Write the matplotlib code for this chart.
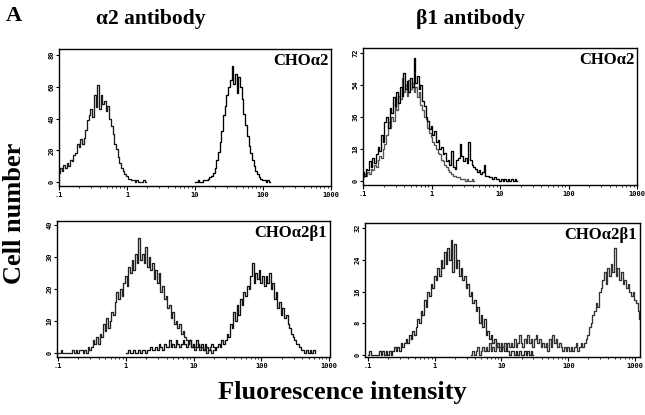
import matplotlib
matplotlib.use("Agg")
import matplotlib.pyplot as plt
import numpy as np
from matplotlib.ticker import FixedLocator, LogLocator, NullFormatter

# ---------------- data (histogram counts on a log10 channel grid) ----------------
LOG_STEP = 0.025  # log10 width of one channel

x_ticks = [0.1, 1, 10, 100, 1000]
x_tick_labels = [".1", "1", "10", "100", "1000"]

column_titles = ["\u03b12 antibody", "\u03b21 antibody"]
row_labels = ["CHO\u03b12", "CHO\u03b12\u03b21"]

# top-left: alpha2 antibody on CHOa2
tl_neg_start = -1.0
tl_neg = [6, 9, 7, 11, 9, 12, 10, 14, 13, 17, 18, 24, 22, 27, 24, 28, 33, 39, 42, 46,
          41, 55, 47, 61, 46, 55, 49, 51, 45, 48, 40, 35, 30, 24, 21, 16, 12, 9, 7, 5,
          4, 2, 2, 1, 1, 0, 1, 0, 0, 0, 1, 0]
tl_pos_start = 1.0
tl_pos = [0, 0, 1, 0, 0, 1, 1, 1, 2, 3, 4, 6, 9, 14, 19, 25, 32, 42, 48, 55,
          60, 64, 73, 62, 68, 56, 66, 60, 52, 43, 36, 29, 23, 18, 14, 10, 7, 5, 3, 2,
          1, 1, 0, 1, 0]
tl_yticks = [0, 20, 40, 60, 80]

# top-right: beta1 antibody on CHOa2
tr_a_start = -1.0
tr_a = [5, 3, 7, 6, 11, 8, 13, 10, 15, 19, 17, 26, 22, 33, 36, 30, 41, 38, 47, 42,
        50, 44, 53, 48, 61, 52, 56, 50, 58, 53, 69, 55, 59, 52, 54, 45, 42, 36, 34, 29,
        31, 26, 28, 22, 23, 18, 19, 15, 16, 11, 12, 9, 17, 8, 7, 12, 13, 21, 14, 11,
        13, 10, 22, 12, 9, 8, 7, 5, 6, 4, 5, 9, 3, 3, 2, 2, 1, 2, 1, 1,
        0, 1, 0, 1, 0, 1, 0, 1, 0, 1, 0]
tr_b_start = -1.0
tr_b = [2, 4, 3, 5, 4, 7, 6, 9, 8, 12, 14, 13, 18, 21, 26, 33, 30, 36, 34, 44,
        40, 48, 46, 58, 50, 54, 48, 57, 52, 55, 50, 53, 47, 50, 43, 40, 36, 35, 30, 27,
        25, 22, 20, 18, 16, 15, 12, 11, 9, 8, 6, 5, 4, 3, 3, 2, 2, 1, 1, 1,
        0, 1, 0, 0, 1, 0]
tr_yticks = [0, 18, 36, 54, 72]

# bottom-left: alpha2 antibody on CHOa2b1
bl_neg_start = -1.0
bl_neg = [0, 0, 1, 0, 0, 0, 0, 0, 0, 1, 0, 1, 0, 1, 1, 0, 1, 0, 2, 1,
          2, 4, 3, 5, 3, 6, 5, 9, 7, 11, 8, 10, 13, 12, 16, 19, 17, 20, 18, 22,
          24, 21, 27, 25, 29, 26, 31, 28, 36, 29, 31, 28, 33, 27, 30, 26, 28, 23, 26, 22,
          25, 19, 21, 17, 18, 14, 15, 11, 13, 9, 10, 8, 9, 6, 7, 5, 4, 3, 4, 2,
          3, 1, 2, 3, 1, 2, 1, 2, 0, 1, 1, 0, 1]
bl_pos_start = 0.0
bl_pos = [0, 0, 1, 0, 0, 1, 0, 0, 1, 0, 1, 1, 0, 1, 1, 2, 1, 1, 2, 1,
          3, 2, 1, 3, 2, 2, 4, 2, 3, 2, 4, 3, 2, 3, 4, 3, 2, 3, 4, 2,
          3, 2, 4, 3, 2, 3, 1, 3, 2, 1, 2, 3, 2, 1, 2, 3, 2, 4, 3, 4,
          6, 5, 9, 8, 13, 10, 15, 12, 17, 15, 19, 18, 21, 20, 24, 28, 22, 25, 23, 26,
          22, 24, 21, 24, 22, 25, 20, 22, 17, 19, 14, 16, 12, 14, 11, 12, 9, 8, 6, 5,
          4, 3, 3, 2, 1, 1, 0, 1, 0, 1, 0, 1, 0]
bl_yticks = [0, 10, 20, 30, 40]

# bottom-right: beta1 antibody on CHOa2b1
br_neg_start = -1.0
br_neg = [0, 1, 0, 0, 0, 0, 0, 1, 0, 1, 0, 1, 0, 1, 0, 1, 2, 1, 2, 1,
          3, 2, 3, 4, 3, 5, 4, 6, 5, 7, 9, 8, 11, 10, 14, 12, 16, 15, 18, 17,
          20, 19, 22, 20, 24, 22, 26, 23, 27, 24, 29, 21, 28, 22, 24, 20, 22, 19, 20, 17,
          18, 15, 16, 13, 14, 11, 12, 8, 10, 7, 9, 5, 6, 4, 5, 3, 4, 2, 3, 2,
          1, 2, 1, 2, 1, 0, 1, 1, 0, 1, 0, 1, 0, 0, 1, 0, 1, 0, 1, 0]
br_pos_start = 0.55
br_pos = [0, 1, 0, 1, 2, 0, 1, 2, 1, 2, 1, 3, 1, 2, 1, 3, 2, 1, 3, 2,
          3, 2, 3, 2, 3, 2, 4, 2, 3, 5, 3, 2, 4, 3, 5, 3, 4, 2, 4, 5,
          3, 4, 2, 3, 2, 3, 1, 4, 2, 5, 3, 4, 2, 3, 2, 1, 2, 1, 2, 1,
          2, 1, 2, 3, 1, 2, 3, 2, 3, 4, 5, 7, 8, 10, 11, 13, 12, 16, 17, 19,
          21, 18, 22, 20, 23, 21, 27, 20, 22, 19, 21, 18, 19, 17, 18, 16, 15, 16, 14, 13,
          11, 9]
br_yticks = [0, 8, 16, 24, 32]

# ---------------- figure ----------------
W, H = 645, 415
fig = plt.figure(figsize=(W / 100, H / 100), dpi=100)
fig.patch.set_facecolor("white")

SERIF = ["Liberation Serif", "DejaVu Serif"]
TICKFONT = dict(family="DejaVu Sans Mono", weight="bold", size=5)


def px_axes(left, right, top, bottom):
    return fig.add_axes([left / W, 1 - bottom / H, (right - left) / W, (bottom - top) / H])


def centers(start, counts):
    return 10 ** (start + LOG_STEP * np.arange(len(counts)))


panels = [
    dict(box=(59, 331, 49, 186), xlim=(0.1, 1000), ylim=(-2.5, 83.8), yticks=tl_yticks,
         series=[(tl_neg_start, tl_neg, "#1a1a1a"), (tl_pos_start, tl_pos, "#000000")],
         label=row_labels[0]),
    dict(box=(363, 637, 48, 185), xlim=(0.1, 1000), ylim=(-2.25, 74.8), yticks=tr_yticks,
         series=[(tr_b_start, tr_b, "#555555"), (tr_a_start, tr_a, "#000000")],
         label=row_labels[0]),
    dict(box=(57, 330, 221, 357), xlim=(0.0967, 1034), ylim=(-1.15, 41.2), yticks=bl_yticks,
         series=[(bl_neg_start, bl_neg, "#222222"), (bl_pos_start, bl_pos, "#111111")],
         label=row_labels[1]),
    dict(box=(365, 640, 223, 357), xlim=(0.0902, 1188), ylim=(-0.5, 33.3), yticks=br_yticks,
         series=[(br_neg_start, br_neg, "#222222"), (br_pos_start, br_pos, "#333333")],
         label=row_labels[1]),
]

for p in panels:
    ax = px_axes(*p["box"])
    for start, counts, col in p["series"]:
        ax.step(centers(start, counts), counts, where="mid", color=col, lw=0.95)
    ax.set_xscale("log")
    ax.set_xlim(*p["xlim"])
    ax.set_ylim(*p["ylim"])
    ax.xaxis.set_major_locator(FixedLocator(x_ticks))
    ax.set_xticklabels(x_tick_labels, fontdict=TICKFONT)
    ax.xaxis.set_minor_locator(LogLocator(base=10, subs=range(2, 10)))
    ax.xaxis.set_minor_formatter(NullFormatter())
    ax.set_yticks(p["yticks"])
    ax.set_yticklabels([str(v) for v in p["yticks"]], fontdict=TICKFONT,
                       rotation=90, va="center")
    ax.tick_params(axis="x", which="major", length=3, width=0.8, pad=1.5, direction="out")
    ax.tick_params(axis="x", which="minor", length=1.5, width=0.6, direction="out")
    ax.tick_params(axis="y", which="major", length=2, width=0.8, pad=1, direction="out")
    for s in ax.spines.values():
        s.set_linewidth(1.0)
        s.set_color("black")
    ax.text(0.99, 0.97, p["label"], transform=ax.transAxes, ha="right", va="top",
            family=SERIF, weight="bold", fontsize=12)

# texts
fig.text(6 / W, 1 - 16 / H, "A", family=SERIF, weight="bold", fontsize=16,
         ha="left", va="center")
fig.text(151 / W, 1 - 19 / H, column_titles[0], family=SERIF, weight="bold",
         fontsize=15.5, ha="center", va="center")
fig.text(470 / W, 1 - 19 / H, column_titles[1], family=SERIF, weight="bold",
         fontsize=15.5, ha="center", va="center")
fig.text(15 / W, 1 - 213 / H, "Cell number", family=SERIF, weight="bold",
         fontsize=19, rotation=90, ha="center", va="center")
fig.text(342 / W, 1 - 392 / H, "Fluorescence intensity", family=SERIF, weight="bold",
         fontsize=19, ha="center", va="center")

fig.savefig("out.png", dpi=100, facecolor="white")
